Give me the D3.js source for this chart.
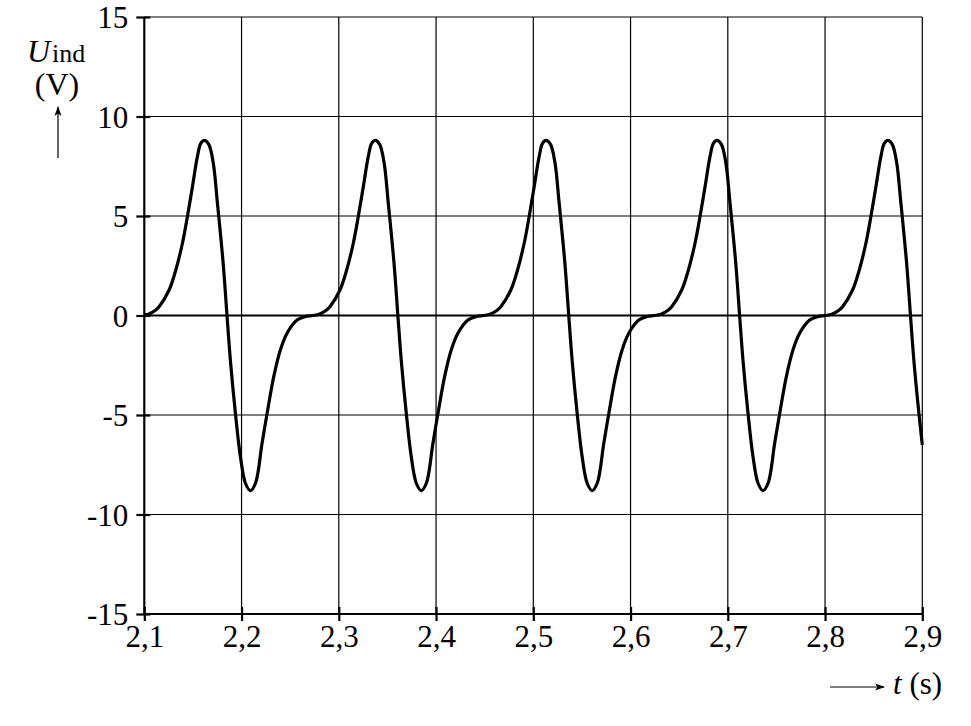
<!DOCTYPE html>
<html>
<head>
<meta charset="utf-8">
<script src="https://cdn.jsdelivr.net/npm/d3@7"></script>
<style>
  body { margin: 0; background: #fff; }
  text { font-family: "Liberation Serif", "DejaVu Serif", serif; fill: #000; }
</style>
</head>
<body>
<script>
// tick labels as printed (decimal comma)
var xTicks = [2.1, 2.2, 2.3, 2.4, 2.5, 2.6, 2.7, 2.8, 2.9];
var xTickLabels = ["2,1", "2,2", "2,3", "2,4", "2,5", "2,6", "2,7", "2,8", "2,9"];
var yTicks = [-15, -10, -5, 0, 5, 10, 15];
var yTickLabels = ["-15", "-10", "-5", "0", "5", "10", "15"];

// induced voltage: time (s) and U_ind (V)
var tValues = [
  2.1000, 2.1041, 2.1111, 2.1152, 2.1255, 2.1324, 2.1392, 2.1443, 2.1495, 2.1546, 2.1581,
  2.1618, 2.1663, 2.1708, 2.1752, 2.1811, 2.1849, 2.1885, 2.1937, 2.1988, 2.2040,
  2.2091, 2.2143, 2.2211, 2.2263, 2.2331, 2.2399, 2.2468, 2.2571, 2.2658, 2.2728,
  2.2798, 2.2868, 2.2909, 2.3012, 2.3081, 2.3149, 2.3200, 2.3252, 2.3303, 2.3338,
  2.3375, 2.3420, 2.3465, 2.3509, 2.3568, 2.3606, 2.3642, 2.3694, 2.3745, 2.3797,
  2.3848, 2.3900, 2.3968, 2.4020, 2.4088, 2.4156, 2.4225, 2.4328, 2.4415, 2.4485,
  2.4555, 2.4625, 2.4666, 2.4769, 2.4838, 2.4906, 2.4957, 2.5009, 2.5060, 2.5095,
  2.5132, 2.5177, 2.5222, 2.5266, 2.5325, 2.5363, 2.5399, 2.5451, 2.5502, 2.5554,
  2.5605, 2.5657, 2.5725, 2.5777, 2.5845, 2.5913, 2.5982, 2.6085, 2.6172, 2.6242,
  2.6312, 2.6382, 2.6423, 2.6526, 2.6595, 2.6663, 2.6714, 2.6766, 2.6817, 2.6852,
  2.6889, 2.6934, 2.6979, 2.7023, 2.7082, 2.7120, 2.7156, 2.7208, 2.7259, 2.7311,
  2.7362, 2.7414, 2.7482, 2.7534, 2.7602, 2.7670, 2.7739, 2.7842, 2.7929, 2.7999,
  2.8069, 2.8139, 2.8180, 2.8283, 2.8352, 2.8420, 2.8471, 2.8523, 2.8574, 2.8609,
  2.8646, 2.8691, 2.8736, 2.8780, 2.8839, 2.8877, 2.8913, 2.8965, 2.9000
];
var uValues = [
  0.03, 0.06, 0.25, 0.44, 1.28, 2.29, 3.63, 4.96, 6.47, 7.98, 8.65,
  8.80, 8.60, 7.70, 5.64, 2.62, 0.10, -2.24, -4.91, -7.09, -8.43,
  -8.80, -8.43, -6.42, -4.91, -3.07, -1.73, -0.89, -0.23, -0.05, 0.00,
  0.06, 0.25, 0.44, 1.28, 2.29, 3.63, 4.96, 6.47, 7.98, 8.65,
  8.80, 8.60, 7.70, 5.64, 2.62, 0.10, -2.24, -4.91, -7.09, -8.43,
  -8.80, -8.43, -6.42, -4.91, -3.07, -1.73, -0.89, -0.23, -0.05, 0.00,
  0.06, 0.25, 0.44, 1.28, 2.29, 3.63, 4.96, 6.47, 7.98, 8.65,
  8.80, 8.60, 7.70, 5.64, 2.62, 0.10, -2.24, -4.91, -7.09, -8.43,
  -8.80, -8.43, -6.42, -4.91, -3.07, -1.73, -0.89, -0.23, -0.05, 0.00,
  0.06, 0.25, 0.44, 1.28, 2.29, 3.63, 4.96, 6.47, 7.98, 8.65,
  8.80, 8.60, 7.70, 5.64, 2.62, 0.10, -2.24, -4.91, -7.09, -8.43,
  -8.80, -8.43, -6.42, -4.91, -3.07, -1.73, -0.89, -0.23, -0.05, 0.00,
  0.06, 0.25, 0.44, 1.28, 2.29, 3.63, 4.96, 6.47, 7.98, 8.65,
  8.80, 8.60, 7.70, 5.64, 2.62, 0.10, -2.24, -4.91, -6.50
];

var width = 971, height = 726;
var plotLeft = 144.3, plotRight = 922.3, plotTop = 17, plotBottom = 614;

var svg = d3.select("body").append("svg")
    .attr("width", width)
    .attr("height", height)
    .style("background-color", "#fff");

var x = d3.scaleLinear().domain([2.1, 2.9]).range([plotLeft, plotRight]);
var y = d3.scaleLinear().domain([-15, 15]).range([plotBottom, plotTop]);

// arrowhead for the axis-label arrows
svg.append("defs").append("marker")
    .attr("id", "arrow")
    .attr("viewBox", "0 0 10 10")
    .attr("refX", 9).attr("refY", 5)
    .attr("markerWidth", 10).attr("markerHeight", 10)
    .attr("markerUnits", "userSpaceOnUse")
    .attr("orient", "auto")
  .append("path")
    .attr("d", "M0,1.5 L10,5 L0,8.5 L2.5,5 z")
    .attr("fill", "#000");

// grid
var grid = svg.append("g");
grid.selectAll(".vg").data(xTicks.slice(1)).enter().append("line")
    .attr("x1", function(d){ return x(d); }).attr("x2", function(d){ return x(d); })
    .attr("y1", plotTop).attr("y2", plotBottom)
    .attr("stroke", "#000").attr("stroke-width", 1.2);
grid.selectAll(".hg").data(yTicks.slice(1)).enter().append("line")
    .attr("x1", plotLeft).attr("x2", plotRight)
    .attr("y1", function(d){ return y(d); }).attr("y2", function(d){ return y(d); })
    .attr("stroke", "#000").attr("stroke-width", function(d){ return d === 0 ? 2.2 : 1.2; });

// axes with ticks crossing the axis line
var xAxis = d3.axisBottom(x).tickValues(xTicks).tickSize(7)
    .tickFormat(function(d, i){ return xTickLabels[i]; });
var yAxis = d3.axisLeft(y).tickValues(yTicks).tickSize(8)
    .tickFormat(function(d, i){ return yTickLabels[i]; });

var gx = svg.append("g").attr("transform", "translate(0," + plotBottom + ")").call(xAxis);
var gy = svg.append("g").attr("transform", "translate(" + plotLeft + ",0)").call(yAxis);

[gx, gy].forEach(function(g){
  g.select(".domain").remove();
  g.selectAll("line").attr("stroke", "#000").attr("stroke-width", 2.2);
  g.selectAll("text").style("font-family", "'Liberation Serif', serif")
      .style("font-size", "31px").attr("fill", "#000");
});
gx.selectAll(".tick line").attr("y1", -7);
gx.selectAll(".tick text").attr("y", 11).attr("dy", "0.71em");
gy.selectAll(".tick line").attr("x2", 6).attr("x1", -8);
gy.selectAll(".tick text").attr("x", -16).attr("dy", "0.34em");

svg.append("line").attr("x1", plotLeft).attr("x2", plotLeft).attr("y1", plotTop).attr("y2", plotBottom)
    .attr("stroke", "#000").attr("stroke-width", 2.2);
svg.append("line").attr("x1", plotLeft).attr("x2", plotRight).attr("y1", plotBottom).attr("y2", plotBottom)
    .attr("stroke", "#000").attr("stroke-width", 2.2);

// curve
var pts = tValues.map(function(t, i){ return [t, uValues[i]]; });
var line = d3.line()
    .x(function(d){ return x(d[0]); })
    .y(function(d){ return y(d[1]); })
    .curve(d3.curveCatmullRom.alpha(0.5));
svg.append("path")
    .datum(pts)
    .attr("d", line)
    .attr("fill", "none")
    .attr("stroke", "#000")
    .attr("stroke-width", 3.2)
    .attr("stroke-linejoin", "round");

// y axis label
var yl = svg.append("text").attr("x", 27).attr("y", 62).style("font-size", "32px");
yl.append("tspan").style("font-style", "italic").text("U");
yl.append("tspan").style("font-size", "26px").attr("dx", 2).text("ind");
svg.append("text").attr("x", 57).attr("y", 95).attr("text-anchor", "middle")
    .style("font-size", "32px").text("(V)");
svg.append("line").attr("x1", 58).attr("x2", 58).attr("y1", 158).attr("y2", 107)
    .attr("stroke", "#000").attr("stroke-width", 1.2).attr("marker-end", "url(#arrow)");

// x axis label
svg.append("line").attr("x1", 830).attr("x2", 884).attr("y1", 687).attr("y2", 687)
    .attr("stroke", "#000").attr("stroke-width", 1.2).attr("marker-end", "url(#arrow)");
var xl = svg.append("text").attr("x", 893).attr("y", 694).style("font-size", "31px");
xl.append("tspan").style("font-style", "italic").text("t");
xl.append("tspan").text(" (s)");
</script>
</body>
</html>
